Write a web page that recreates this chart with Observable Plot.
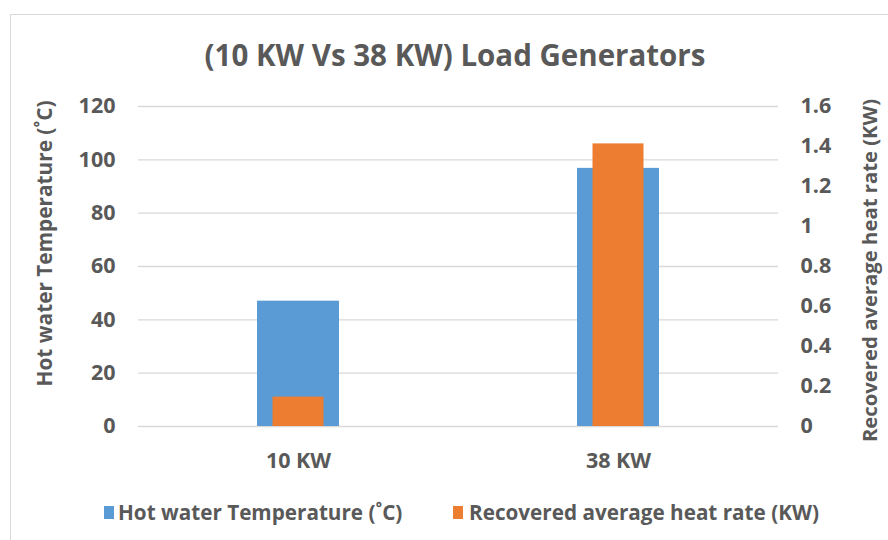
<!DOCTYPE html>
<html><head><meta charset="utf-8">
<script src="https://cdn.jsdelivr.net/npm/d3@7"></script>
<script src="https://cdn.jsdelivr.net/npm/@observablehq/plot@0.6"></script>
<style>
body{margin:0;background:#fff;font-family:"Open Sans",Lato,sans-serif;}
#wrap{position:relative;width:888px;height:540px;overflow:hidden;background:#fff;}
#frame{position:absolute;left:10px;top:14px;width:920px;height:600px;border:1px solid #d9d9d9;box-sizing:border-box;}
#title{position:absolute;left:0;top:35px;width:910px;text-align:center;font-size:29.5px;line-height:40px;font-weight:700;color:#595959;white-space:nowrap;}
#chart{position:absolute;left:0;top:88px;}
.leg{position:absolute;top:498px;font-size:20.7px;line-height:28px;font-weight:700;color:#595959;white-space:nowrap;}
.sw{position:absolute;top:506px;width:10px;height:13px;}
</style></head>
<body>
<div id="wrap">
  <div id="frame"></div>
  <div id="title"></div>
  <div id="chart"></div>
  <div class="sw" id="sw0"></div><div class="leg" id="lg0"></div>
  <div class="sw" id="sw1"></div><div class="leg" id="lg1"></div>
</div>
<script>
const titleText = "(10 KW Vs 38 KW) Load Generators";
const categories = ["10 KW", "38 KW"];
const hotWaterTemp = [47, 96.8];
const heatRate = [0.147, 1.413];
const leftTicks = [0, 20, 40, 60, 80, 100, 120];
const rightTicks = [0, 0.2, 0.4, 0.6, 0.8, 1, 1.2, 1.4, 1.6];
const seriesNames = ["Hot water Temperature (\u02DAC)", "Recovered average heat rate (KW)"];
const seriesColors = ["#5b9bd5", "#ed7d31"];

const leftMax = 120, rightMax = 1.6, k = leftMax / rightMax;
const table = categories.map((c, i) => ({cat: c, temp: hotWaterTemp[i], rate: heatRate[i]}));

document.getElementById("title").textContent = titleText;

const chart = Plot.plot({
  width: 888,
  height: 400,
  marginTop: 18,
  marginBottom: 62,
  marginLeft: 138,
  marginRight: 110,
  style: {fontFamily: "'Open Sans', Lato, sans-serif", fontSize: "21.5px", fontWeight: 700, color: "#595959", background: "transparent"},
  x: {domain: categories, padding: 0},
  y: {domain: [0, leftMax]},
  marks: [
    Plot.ruleY(leftTicks, {stroke: "#d9d9d9", strokeWidth: 1.3}),
    Plot.barY(table, {x: "cat", y: "temp", fill: seriesColors[0], insetLeft: 119, insetRight: 119}),
    Plot.barY(table, {x: "cat", y: d => d.rate * k, fill: seriesColors[1], insetLeft: 134.5, insetRight: 134.5}),
    Plot.axisX({tickSize: 0, tickPadding: 26, label: null}),
    Plot.axisY({anchor: "left", ticks: leftTicks, tickSize: 0, tickPadding: 23, label: null}),
    Plot.axisY({anchor: "right", ticks: rightTicks.map(v => v * k), tickFormat: (d, i) => String(rightTicks[i]), tickSize: 0, tickPadding: 22, label: null}),
    Plot.text([seriesNames[0]], {text: d => d, frameAnchor: "left", textAnchor: "middle", dx: -93, dy: -23, rotate: -90, fontSize: 20.8, fontWeight: 700, fill: "#595959"}),
    Plot.text([seriesNames[1]], {text: d => d, frameAnchor: "right", textAnchor: "middle", dx: 92, dy: 4, rotate: -90, fontSize: 20.3, fontWeight: 700, fill: "#595959"})
  ]
});
document.getElementById("chart").appendChild(chart);

const legLeft = [[104, 118], [453, 469]];
seriesNames.forEach((n, i) => {
  const sw = document.getElementById("sw" + i);
  sw.style.left = legLeft[i][0] + "px";
  sw.style.background = seriesColors[i];
  const lg = document.getElementById("lg" + i);
  lg.style.left = legLeft[i][1] + "px";
  lg.textContent = n;
});
</script>
</body></html>
